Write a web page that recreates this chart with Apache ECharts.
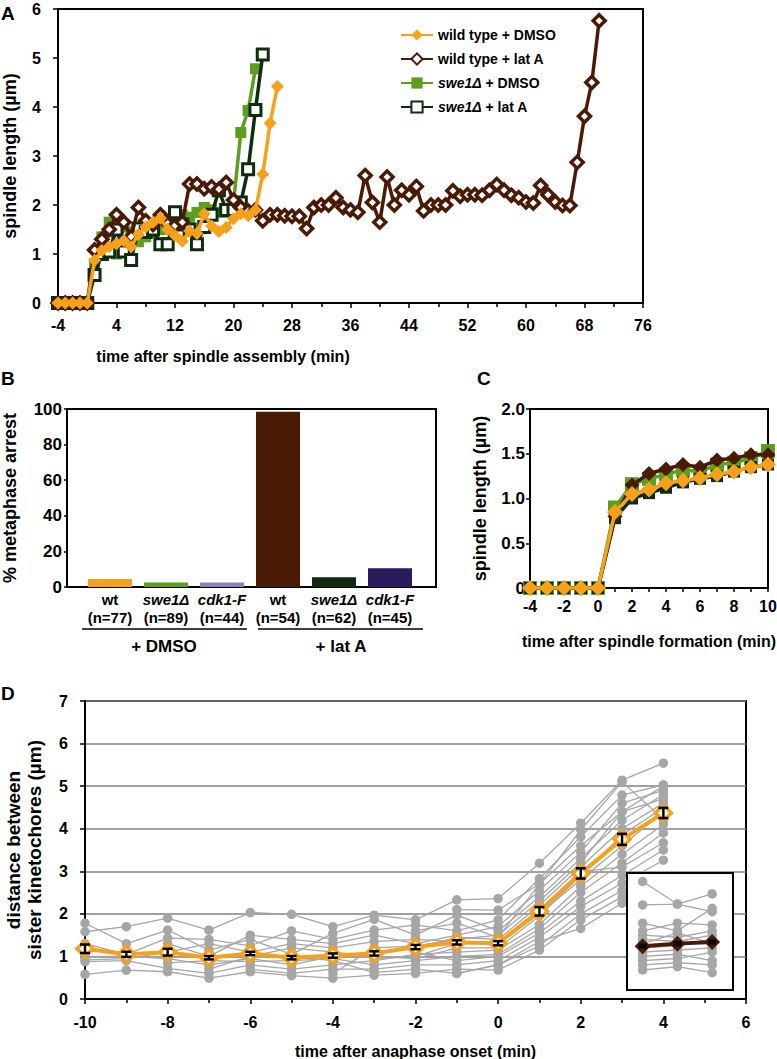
<!DOCTYPE html>
<html><head><meta charset="utf-8">
<script src="https://cdn.jsdelivr.net/npm/echarts/dist/echarts.min.js"></script>
<style>html,body{margin:0;padding:0;background:#fff}#c{width:777px;height:1059px}</style>
</head><body><div id="c"></div>
<script>
// ---------- DATA ----------
// Panel A
const timeA = [-4,-3,-2,-1,0,1,2,3,4,5,6,7,8,9,10,11,12,13,14,15,16,17,18,19,20,21,22,23,24,25,26,27,28,29,30,31,32,33,34,35,36,37,38,39,40,41,42,43,44,45,46,47,48,49,50,51,52,53,54,55,56,57,58,59,60,61,62,63,64,65,66,67,68,69,70];
const wtDMSO_A = [0,0,0,0,0,0.87,1.07,1.15,1.21,1.27,1.15,1.4,1.55,1.65,1.73,1.5,1.38,1.26,1.47,1.42,1.82,1.57,1.46,1.54,1.72,1.82,1.78,1.9,2.63,3.67,4.42];
const wtLatA_A = [0,0,0,0,0,
  1.08,1.3,1.5,1.8,1.65,1.35,1.95,1.68,1.6,1.8,
  1.62,1.58,1.65,2.43,2.43,2.33,2.37,2.32,2.46,2.1,
  1.95,1.88,1.9,1.68,1.8,1.8,1.78,1.77,1.77,1.52,
  1.95,2.0,2.0,2.15,1.95,1.9,1.85,2.6,2.05,1.65,
  2.57,2.0,2.3,2.21,2.38,1.88,2.0,2.0,2.0,2.29,
  2.18,2.21,2.21,2.2,2.3,2.42,2.3,2.2,2.15,2.06,
  2.04,2.4,2.21,2.06,1.99,1.99,2.87,3.81,4.5,5.76];
const swe1DMSO_A = [0,0,0,0,0,0.8,1.35,1.65,1.0,1.55,1.45,1.25,1.35,1.45,1.5,1.62,1.8,1.8,1.75,1.85,1.95,1.9,1.85,1.85,2.05,3.48,3.93,4.78];
const swe1LatA_A = [0,0,0,0,0,0.57,1.0,1.05,1.5,1.05,0.88,1.52,1.45,1.5,1.2,1.2,1.85,1.6,1.5,1.2,1.55,1.8,2.3,1.9,1.9,2.05,2.73,3.94,5.07];
const seriesNames = ['wild type + DMSO','wild type + lat A','swe1Δ + DMSO','swe1Δ + lat A'];

// Panel B
const catB = ['wt','swe1Δ','cdk1-F','wt','swe1Δ','cdk1-F'];
const nB = [77,89,44,54,62,45];
const pctArrestB = [4.5,2.5,2.5,98.5,5.5,10.5];
const groupsB = ['+ DMSO','+ lat A'];

// Panel C
const timeC = [-4,-3,-2,-1,0,1,2,3,4,5,6,7,8,9,10];
const wtDMSO_C = [0,0,0,0,0,0.85,1.05,1.1,1.17,1.2,1.23,1.27,1.3,1.35,1.38];
const wtLatA_C = [0,0,0,0,0,0.8,1.15,1.28,1.33,1.38,1.35,1.43,1.45,1.49,1.49];
const swe1DMSO_C = [0,0,0,0,0,0.9,1.16,1.22,1.27,1.32,1.3,1.38,1.4,1.45,1.53];
const swe1LatA_C = [0,0,0,0,0,0.78,1.0,1.06,1.12,1.18,1.22,1.25,1.3,1.35,1.38];

// Panel D
const timeD = [-10,-9,-8,-7,-6,-5,-4,-3,-2,-1,0,1,2,3,4];
const meanD = [1.18,1.05,1.1,0.97,1.07,0.97,1.02,1.07,1.22,1.33,1.31,2.06,2.95,3.75,4.37];
const semD  = [0.1,0.06,0.08,0.04,0.04,0.04,0.05,0.05,0.05,0.05,0.05,0.1,0.12,0.13,0.12];
const tracesD = [
  [1.78,1.30,1.62,1.15,1.40,1.05,1.54,1.87,1.50,1.97,1.60,2.40,3.30,4.20,4.80],
  [1.58,1.70,1.90,1.62,2.03,1.99,1.70,1.97,1.86,2.33,2.36,3.19,4.13,5.14,5.54],
  [1.30,1.05,1.43,1.40,1.25,1.60,1.40,1.62,1.74,1.60,1.86,2.83,3.81,4.79,5.03],
  [1.00,1.00,0.95,0.80,0.95,0.80,1.00,1.10,1.20,1.45,1.40,2.20,3.10,4.00,4.60],
  [0.92,0.95,1.10,1.30,1.10,1.30,1.20,1.35,1.40,1.35,1.30,2.00,2.80,3.60,4.40],
  [0.88,0.90,0.72,0.60,0.80,0.70,0.80,0.90,1.05,1.10,1.15,1.75,2.65,3.40,4.10],
  [0.58,0.68,0.64,0.49,0.64,0.55,0.49,0.56,0.60,0.70,0.68,1.15,1.86,2.40,2.80],
  [null,null,1.30,1.00,1.50,1.40,1.30,1.50,1.30,1.50,1.70,2.55,3.45,4.60,4.90],
  [null,null,0.85,0.90,0.88,0.90,0.95,0.80,0.90,1.00,1.05,1.65,2.50,3.20,3.90],
  [null,null,null,0.70,1.00,1.20,1.10,1.00,0.95,1.20,1.20,1.95,2.90,3.85,4.50],
  [null,null,null,null,0.70,0.60,0.70,0.70,0.80,0.80,0.90,1.45,2.17,2.72,3.26],
  [null,null,null,null,null,1.00,0.90,0.62,0.70,0.60,0.80,1.25,2.00,2.55,2.90],
  [null,null,null,null,null,null,0.60,1.20,1.25,1.40,1.50,2.30,3.20,4.40,4.70],
  [null,null,null,null,null,null,null,0.95,1.00,1.30,1.35,2.10,3.00,3.10,3.67],
  [null,null,null,null,null,null,null,null,1.10,0.90,1.00,1.55,2.30,2.90,3.50],
  [null,null,null,null,null,null,null,null,1.60,1.78,1.45,2.70,3.97,5.10,4.22],
  [null,null,null,null,null,null,null,null,null,2.10,2.09,2.70,3.60,4.40,5.00],
  [null,null,null,null,null,null,null,null,null,0.60,0.80,1.35,1.66,2.25,2.70]
];
// Inset of D (cells that do not separate)
const insetCols = [0,1,2];
const insetMean = [1.24,1.30,1.34];
const insetSem = [0.03,0.03,0.03];
const insetTraces = [
  [2.76,2.23,2.05],[2.21,2.23,2.47],[1.78,1.60,2.13],[1.60,1.78,1.74],
  [1.50,1.45,1.60],[1.40,1.35,1.50],[1.30,1.55,1.30],[1.20,1.25,1.40],
  [1.10,1.15,1.20],[1.00,1.05,0.90],[0.90,0.95,1.10],[0.80,0.85,0.80],
  [0.68,0.76,0.62]
];

// ---------- STYLE ----------
const FONT = '"Liberation Sans", Arial, sans-serif';
const ORANGE = '#f7a11a', BROWN = '#4a1a06', GREEN = '#5c9e1e', DKGREEN = '#0c2d10', GRAY = '#a6a6a6';
const barColors = ['#f7a11a','#5c9e1e','#8c80c4','#4a1a06','#0f2a12','#2b1a5e'];

const pairs = (t, v) => v.map((y, i) => [t[i], y]);
const lbl = (o) => Object.assign({color:'#000', fontFamily:FONT, fontWeight:'bold', fontSize:16}, o||{});
const line2 = {show:true, onZero:false, lineStyle:{color:'#000', width:2}};
const tick = (len) => ({show:true, length:len, lineStyle:{color:'#000', width:1.5}});
const minor = {show:true, splitNumber:2, length:4, lineStyle:{color:'#000', width:1.5}};
const nameStyle = (s, lh) => ({color:'#000', fontFamily:FONT, fontWeight:'bold', fontSize:s, lineHeight:lh || s+4});

const INSET = {left:627, top:873, width:106, height:117};

const grids = [
  {left:58, top:9, width:585, height:294},
  {left:67, top:409, width:369, height:178},
  {left:82, top:409, width:336, height:178},
  {left:530, top:409, width:238, height:179},
  {left:85, top:701, width:661, height:298},
  {left:INSET.left, top:INSET.top, width:INSET.width, height:INSET.height}
].map(g => Object.assign({show:true, borderColor:'#000', borderWidth:2, backgroundColor:'transparent', containLabel:false, outerBoundsMode:'none'}, g));
grids[2].show = false; grids[5].show = false;

const xAxes = [
  {gridIndex:0, type:'value', min:-4, max:76, interval:8, axisLine:line2, axisTick:tick(5), minorTick:minor, axisLabel:lbl({margin:14}), splitLine:{show:false}},
  {gridIndex:1, type:'value', min:0, max:1, axisLine:line2, axisTick:{show:false}, axisLabel:{show:false}, splitLine:{show:false}},
  {gridIndex:2, type:'category', data:catB, axisLine:{show:false}, axisTick:{show:false},
   axisLabel:{margin:3, interval:0, formatter:(v, i) => {
      const it = (v !== 'wt');
      return (it ? '{i|' + v + '}' : '{b|' + v + '}') + '\n{b|(n=' + nB[i] + ')}';
    }, rich:{i:lbl({fontStyle:'italic', fontSize:15, lineHeight:18}), b:lbl({fontSize:15, lineHeight:18})}}},
  {gridIndex:3, type:'value', min:-4, max:10, interval:2, axisLine:line2, axisTick:tick(4), minorTick:minor, axisLabel:lbl({margin:10}), splitLine:{show:false},
   name:'time after spindle formation (min)', nameLocation:'middle', nameGap:43, nameTextStyle:nameStyle(16)},
  {gridIndex:4, type:'value', min:-10, max:6, interval:2, axisLine:line2, axisTick:tick(5), minorTick:minor, axisLabel:lbl({margin:15}), splitLine:{show:false},
   name:'time after anaphase onset (min)', nameLocation:'middle', nameGap:42, nameTextStyle:nameStyle(16)},
  {gridIndex:5, type:'value', min:-0.45, max:2.6, show:false}
];
const yAxes = [
  {gridIndex:0, type:'value', min:0, max:6, interval:1, axisLine:line2, axisTick:tick(5), axisLabel:lbl({margin:17}), splitLine:{show:false},
   name:'spindle length (µm)', nameLocation:'middle', nameGap:36, nameTextStyle:nameStyle(18)},
  {gridIndex:1, type:'value', min:0, max:100, interval:20, axisLine:line2, axisTick:tick(3), axisLabel:lbl({margin:5, fontSize:17}), splitLine:{show:false},
   name:'% metaphase arrest', nameLocation:'middle', nameGap:46, nameTextStyle:nameStyle(18)},
  {gridIndex:2, type:'value', min:0, max:100, show:false},
  {gridIndex:3, type:'value', min:0, max:2, interval:0.5, axisLine:line2, axisTick:tick(4), axisLabel:lbl({margin:5, fontSize:17, formatter:v => v === 0 ? '0' : v.toFixed(1)}), splitLine:{show:false},
   name:'spindle length (µm)', nameLocation:'middle', nameGap:39, nameTextStyle:nameStyle(18)},
  {gridIndex:4, type:'value', min:0, max:7, interval:1, axisLine:line2, axisTick:tick(5), axisLabel:lbl({margin:17}), splitLine:{show:true, lineStyle:{color:'#808080', width:1.5}},
   name:'distance between\nsister kinetochores (µm)', nameLocation:'middle', nameGap:40, nameTextStyle:nameStyle(19, 21)},
  {gridIndex:5, type:'value', min:0.21, max:2.96, show:false}
];

const series = [];
// Panel A series (draw order: green, dark green, brown, orange)
const aStyle = {
  'wild type + DMSO': {symbol:'diamond', symbolSize:13, itemStyle:{color:ORANGE}, lineStyle:{color:ORANGE, width:3.5}, z:8},
  'wild type + lat A': {symbol:'diamond', symbolSize:12, itemStyle:{color:'#fff', borderColor:BROWN, borderWidth:3.5}, lineStyle:{color:BROWN, width:3.5}, z:7},
  'swe1Δ + DMSO': {symbol:'rect', symbolSize:11, itemStyle:{color:GREEN}, lineStyle:{color:GREEN, width:3.5}, z:5},
  'swe1Δ + lat A': {symbol:'rect', symbolSize:11, itemStyle:{color:'#fff', borderColor:DKGREEN, borderWidth:3}, lineStyle:{color:DKGREEN, width:3.5}, z:6}
};
const aData = {'wild type + DMSO':wtDMSO_A, 'wild type + lat A':wtLatA_A, 'swe1Δ + DMSO':swe1DMSO_A, 'swe1Δ + lat A':swe1LatA_A};
seriesNames.forEach(n => {
  series.push(Object.assign({name:n, type:'line', xAxisIndex:0, yAxisIndex:0, data:pairs(timeA, aData[n]), showSymbol:true}, aStyle[n]));
});
// Panel B bars
series.push({type:'bar', xAxisIndex:2, yAxisIndex:2, barWidth:44,
  data:pctArrestB.map((v, i) => ({value:v, itemStyle:{color:barColors[i]}}))});
// Panel C series
const cStyle = {
  'wild type + DMSO': {symbol:'diamond', symbolSize:16, itemStyle:{color:ORANGE}, lineStyle:{color:ORANGE, width:3.5}, z:8},
  'wild type + lat A': {symbol:'diamond', symbolSize:15, itemStyle:{color:BROWN}, lineStyle:{color:BROWN, width:3.5}, z:7},
  'swe1Δ + DMSO': {symbol:'rect', symbolSize:14, itemStyle:{color:GREEN}, lineStyle:{color:GREEN, width:3.5}, z:5},
  'swe1Δ + lat A': {symbol:'rect', symbolSize:12, itemStyle:{color:DKGREEN}, lineStyle:{color:DKGREEN, width:3.5}, z:6}
};
const cData = {'wild type + DMSO':wtDMSO_C, 'wild type + lat A':wtLatA_C, 'swe1Δ + DMSO':swe1DMSO_C, 'swe1Δ + lat A':swe1LatA_C};
seriesNames.forEach(n => {
  series.push(Object.assign({name:n, type:'line', xAxisIndex:3, yAxisIndex:3, data:pairs(timeC, cData[n])}, cStyle[n]));
});
// Panel D gray traces
tracesD.forEach(tr => {
  series.push({type:'line', xAxisIndex:4, yAxisIndex:4, data:pairs(timeD, tr), symbol:'circle', symbolSize:9.5,
    itemStyle:{color:GRAY}, lineStyle:{color:GRAY, width:1.3}, z:2, silent:true});
});
// D mean line
series.push({type:'line', xAxisIndex:4, yAxisIndex:4, data:pairs(timeD, meanD), symbol:'diamond', symbolSize:16,
  itemStyle:{color:'#fff', borderColor:ORANGE, borderWidth:3.5}, lineStyle:{color:ORANGE, width:4}, z:3});
const errRender = (w, col) => (params, api) => {
  const x = api.value(0), m = api.value(1), s = api.value(2);
  const t = api.coord([x, m + s]), b = api.coord([x, m - s]);
  const st = {stroke:col, lineWidth:2.5};
  return {type:'group', children:[
    {type:'line', shape:{x1:t[0], y1:t[1], x2:b[0], y2:b[1]}, style:st},
    {type:'line', shape:{x1:t[0]-w, y1:t[1], x2:t[0]+w, y2:t[1]}, style:st},
    {type:'line', shape:{x1:b[0]-w, y1:b[1], x2:b[0]+w, y2:b[1]}, style:st}
  ]};
};
series.push({type:'custom', xAxisIndex:4, yAxisIndex:4, z:4, renderItem:errRender(5, '#000'),
  data:timeD.map((t, i) => [t, meanD[i], semD[i]])});
// Inset
insetTraces.forEach(tr => {
  series.push({type:'line', xAxisIndex:5, yAxisIndex:5, data:pairs(insetCols, tr), symbol:'circle', symbolSize:9.5,
    itemStyle:{color:GRAY}, lineStyle:{color:GRAY, width:1.3}, z:6, silent:true});
});
series.push({type:'line', xAxisIndex:5, yAxisIndex:5, data:pairs(insetCols, insetMean), symbol:'diamond', symbolSize:16,
  itemStyle:{color:BROWN}, lineStyle:{color:BROWN, width:4}, z:7});
series.push({type:'custom', xAxisIndex:5, yAxisIndex:5, z:8, renderItem:errRender(4, '#000'),
  data:insetCols.map((c, i) => [c, insetMean[i], insetSem[i]])});

const txt = (text, x, y, size, align) => ({type:'text', x:x, y:y, z:10,
  style:{text:text, font:'bold ' + size + 'px ' + FONT, fill:'#000', textAlign:align||'left', align:align||'left', textVerticalAlign:'middle', verticalAlign:'middle'}});

const LEG = 14;
const option = {
  animation:false,
  backgroundColor:'#fff',
  grid:grids, xAxis:xAxes, yAxis:yAxes, series:series,
  legend:{data:seriesNames, orient:'vertical', left:395, top:23, itemWidth:32, itemHeight:14, itemGap:10,
    textStyle:{color:'#000', fontFamily:FONT, fontWeight:'bold', fontSize:LEG,
      rich:{i:{fontFamily:FONT, fontWeight:'bold', fontStyle:'italic', fontSize:LEG, color:'#000'}, b:{fontFamily:FONT, fontWeight:'bold', fontSize:LEG, color:'#000'}}},
    formatter:n => n.startsWith('swe1Δ') ? '{i|swe1Δ}{b|' + n.slice(5) + '}' : '{b|' + n + '}'},
  graphic:[
    txt('A', 1, 13, 19), txt('B', 1, 378, 19), txt('C', 477, 378, 19), txt('D', 1, 693, 19),
    txt('time after spindle assembly (min)', 223, 356, 16, 'center'),
    {type:'line', z:10, shape:{x1:82, y1:629, x2:247, y2:629}, style:{stroke:'#000', lineWidth:1.5}},
    {type:'line', z:10, shape:{x1:258, y1:629, x2:423, y2:629}, style:{stroke:'#000', lineWidth:1.5}},
    txt(groupsB[0], 164, 646, 17, 'center'), txt(groupsB[1], 341, 646, 17, 'center'),
    {type:'rect', z:5, shape:{x:INSET.left, y:INSET.top, width:INSET.width, height:INSET.height},
     style:{fill:'#fff', stroke:'#000', lineWidth:2}}
  ]
};
const chart = echarts.init(document.getElementById('c'), null, {renderer:'svg'});
chart.setOption(option);
</script>
</body></html>
